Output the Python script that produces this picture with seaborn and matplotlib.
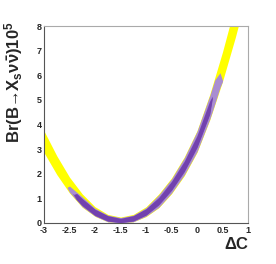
import matplotlib
matplotlib.use("Agg")
import matplotlib.pyplot as plt
import seaborn as sns
import numpy as np

# ---- data ----
dc_yellow = [-3.1, -3.0, -2.75, -2.5, -2.25, -2.0, -1.75, -1.5, -1.25, -1.0,
             -0.75, -0.5, -0.25, 0.0, 0.25, 0.5, 0.75, 0.9]
br_yellow_lo = [3.29, 2.86, 1.97, 1.22, 0.64, 0.27, 0.05, 0.0, 0.05, 0.26,
                0.62, 1.19, 1.92, 2.87, 4.19, 5.75, 7.53, 8.71]
br_yellow_hi = [4.21, 3.74, 2.73, 1.86, 1.18, 0.66, 0.35, 0.24, 0.35, 0.66,
                1.18, 1.83, 2.68, 3.75, 5.22, 6.95, 8.88, 10.15]

dc_light = [-2.55, -2.5, -2.25, -2.0, -1.75, -1.5, -1.25, -1.0, -0.75, -0.5,
            -0.25, 0.0, 0.25, 0.35, 0.45, 0.5]
br_light_lo = [1.45, 1.25, 0.66, 0.28, 0.05, 0.0, 0.05, 0.28, 0.64, 1.22,
               1.96, 2.90, 4.22, 4.85, 5.50, 5.75]
br_light_hi = [1.45, 1.50, 1.06, 0.60, 0.32, 0.22, 0.32, 0.62, 1.14, 1.79,
               2.64, 3.72, 5.17, 5.82, 6.10, 5.80]

dc_dark = [-2.42, -2.36, -2.25, -2.0, -1.75, -1.5, -1.25, -1.0, -0.75, -0.5,
           -0.25, 0.0, 0.25, 0.3]
br_dark_lo = [1.16, 0.95, 0.71, 0.31, 0.08, 0.02, 0.08, 0.32, 0.74, 1.33,
              2.09, 3.07, 4.42, 5.05]
br_dark_hi = [1.16, 1.20, 0.99, 0.56, 0.30, 0.19, 0.30, 0.58, 1.04, 1.69,
              2.51, 3.55, 4.96, 5.15]

x_ticks = [-3, -2.5, -2, -1.5, -1, -0.5, 0, 0.5, 1]
x_tick_labels = ["-3", "-2.5", "-2", "-1.5", "-1", "-0.5", "0", "0.5", "1"]
y_ticks = [0, 1, 2, 3, 4, 5, 6, 7, 8]
y_tick_labels = ["0", "1", "2", "3", "4", "5", "6", "7", "8"]

# ---- style ----
sns.set_style("white")
plt.rcParams["font.family"] = ["Liberation Sans", "DejaVu Sans"]
plt.rcParams["font.weight"] = "bold"
plt.rcParams["axes.unicode_minus"] = False
plt.rcParams["mathtext.fontset"] = "custom"
plt.rcParams["mathtext.rm"] = "Liberation Sans:bold"
plt.rcParams["mathtext.it"] = "Liberation Sans:bold"
plt.rcParams["mathtext.bf"] = "Liberation Sans:bold"
plt.rcParams["mathtext.sf"] = "Liberation Sans:bold"
plt.rcParams["mathtext.default"] = "rm"
plt.rcParams["mathtext.fallback"] = "stix"

YELLOW = "#FFFF00"
LIGHT = "#A98DD1"
DARK = "#7242AE"

fig = plt.figure(figsize=(2.76, 2.64), dpi=100)
ax = fig.add_axes([44 / 276, 41 / 264, 204 / 276, 197 / 264])

ax.fill_between(dc_yellow, br_yellow_lo, br_yellow_hi, color=YELLOW, lw=0)
ax.fill_between(dc_light, br_light_lo, br_light_hi, color=LIGHT, lw=0)
ax.fill_between(dc_dark, br_dark_lo, br_dark_hi, color=DARK, lw=0)
sns.lineplot(x=dc_dark, y=br_dark_lo, ax=ax, color=DARK, lw=0.3, sort=False)

ax.set_xlim(-3, 1)
ax.set_ylim(0, 8)

ax.set_xticks(x_ticks)
ax.set_xticklabels(x_tick_labels)
ax.set_yticks(y_ticks)
ax.set_yticklabels(y_tick_labels)
ax.set_xticks(np.arange(-3, 1.001, 0.1), minor=True)
ax.set_yticks(np.arange(0, 8.001, 0.2), minor=True)

ax.tick_params(axis="both", which="major", direction="in", length=4.5,
               width=0.7, color="#444444", labelsize=6.5)
ax.tick_params(axis="x", which="major", pad=2.5)
ax.tick_params(axis="y", which="major", pad=1.5)
ax.tick_params(axis="both", which="minor", direction="in", length=2.3,
               width=0.6, color="#444444")
ax.tick_params(axis="x", which="both", top=False)
ax.tick_params(axis="y", which="both", right=False)
for lab in ax.get_xticklabels() + ax.get_yticklabels():
    lab.set_fontweight("bold")

for side in ["left", "bottom"]:
    ax.spines[side].set_color("#555555")
    ax.spines[side].set_linewidth(0.8)
for side in ["top", "right"]:
    ax.spines[side].set_color("#AAAAAA")
    ax.spines[side].set_linewidth(0.8)

fig.text(14 / 276, 1 - 82 / 264,
         "Br(B\u2192X" + r"$_{s}\nu\bar{\nu}$" + ")10" + r"$^{5}$",
         rotation=90, ha="center", va="center", fontsize=12, fontweight="bold")
fig.text(249 / 276, 1 - 244 / 264, r"$\Delta$C", ha="right", va="center",
         fontsize=12, fontweight="bold")

fig.savefig("out.png", dpi=100)
